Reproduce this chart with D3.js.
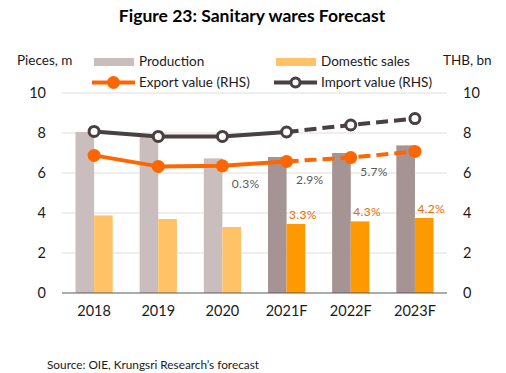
<!DOCTYPE html>
<html>
<head>
<meta charset="utf-8">
<script src="https://cdn.jsdelivr.net/npm/d3@7"></script>
<style>
  body { margin: 0; background: #fff; }
  text { font-family: Lato, "Open Sans", sans-serif; }
</style>
</head>
<body>
<div id="chart"></div>
<script>
var years = ["2018", "2019", "2020", "2021F", "2022F", "2023F"]
var production = [8.05, 7.9, 6.73, 6.8, 7.0, 7.38]
var domestic = [3.88, 3.7, 3.3, 3.45, 3.58, 3.75]
var exportValue = [6.88, 6.33, 6.36, 6.58, 6.77, 7.08]
var importValue = [8.08, 7.83, 7.83, 8.05, 8.4, 8.72]
var prodGrowth = ["", "", "", "0.3%", "2.9%", "5.7%"]
var domGrowth = ["", "", "", "3.3%", "4.3%", "4.2%"]
var ticks = [0, 2, 4, 6, 8, 10]
var forecastFrom = 3

var svgWidth = 506
var svgHeight = 373

var svg = d3.select("#chart")
    .append("svg")
    .attr("width", svgWidth)
    .attr("height", svgHeight)

var x = d3.scaleBand()
    .domain(years)
    .range([62, 447])
    .paddingInner(0.42)
    .paddingOuter(0.21)

var x1 = d3.scaleBand()
    .domain(["prod", "dom"])
    .range([0, x.bandwidth()])

var yLeft = d3.scaleLinear().domain([0, 10]).range([293, 93])
var yRight = d3.scaleLinear().domain([0, 10]).range([293, 93])

var cx = d => x(d) + x.bandwidth() / 2

// title
svg.append("text")
    .attr("x", 252).attr("y", 22)
    .attr("text-anchor", "middle")
    .attr("font-size", 17.5).attr("font-weight", "bold")
    .attr("fill", "#000")
    .text("Figure 23: Sanitary wares Forecast")

// gridlines
svg.append("g").selectAll("line")
    .data(ticks.slice(1))
    .enter().append("line")
    .attr("x1", 62).attr("x2", 447)
    .attr("y1", d => yLeft(d)).attr("y2", d => yLeft(d))
    .attr("stroke", "#dedede").attr("stroke-width", 1)

// axes
var leftAxis = d3.axisLeft(yLeft).tickValues(ticks).tickSize(0).tickPadding(0)
var rightAxis = d3.axisRight(yRight).tickValues(ticks).tickSize(0).tickPadding(0)
var bottomAxis = d3.axisBottom(x).tickSize(0).tickPadding(0)

var gl = svg.append("g").attr("transform", "translate(46,0)").call(leftAxis)
var gr = svg.append("g").attr("transform", "translate(463,0)").call(rightAxis)
var gb = svg.append("g").attr("transform", "translate(0,306)").call(bottomAxis)
;[gl, gr, gb].forEach(g => {
    g.select(".domain").remove()
    g.selectAll("text").attr("font-size", 14.5).attr("fill", "#1a1a1a")
        .attr("font-family", "Lato, sans-serif")
})

// bars
var bars = svg.append("g")
bars.selectAll("rect.prod")
    .data(years)
    .enter().append("rect")
    .attr("class", "prod")
    .attr("x", d => x(d) + x1("prod"))
    .attr("width", x1.bandwidth())
    .attr("y", (d, i) => yLeft(production[i]))
    .attr("height", (d, i) => yLeft(0) - yLeft(production[i]))
    .attr("fill", (d, i) => i < forecastFrom ? "#c9bdbd" : "#a69393")

bars.selectAll("rect.dom")
    .data(years)
    .enter().append("rect")
    .attr("class", "dom")
    .attr("x", d => x(d) + x1("dom"))
    .attr("width", x1.bandwidth())
    .attr("y", (d, i) => yLeft(domestic[i]))
    .attr("height", (d, i) => yLeft(0) - yLeft(domestic[i]))
    .attr("fill", (d, i) => i < forecastFrom ? "#ffc266" : "#ff9900")

// baseline
svg.append("line")
    .attr("x1", 62).attr("x2", 447)
    .attr("y1", yLeft(0)).attr("y2", yLeft(0))
    .attr("stroke", "#595959").attr("stroke-width", 1)

// growth labels
svg.append("g").selectAll("text")
    .data(years)
    .enter().append("text")
    .attr("x", d => cx(d) - 41)
    .attr("y", (d, i) => yLeft(production[i]) + 31)
    .attr("text-anchor", "middle")
    .attr("font-size", 12).attr("fill", "#595959")
    .attr("letter-spacing", 0.3)
    .text((d, i) => prodGrowth[i])

svg.append("g").selectAll("text")
    .data(years)
    .enter().append("text")
    .attr("x", d => x(d) + x1("dom") + x1.bandwidth() / 2 + 7)
    .attr("y", (d, i) => yLeft(domestic[i]) - 5)
    .attr("text-anchor", "middle")
    .attr("font-size", 12).attr("fill", "#e36c0a")
    .attr("letter-spacing", 0.3)
    .text((d, i) => domGrowth[i])

// lines
function drawLine(values, color) {
    var pts = years.map((d, i) => [cx(d), yRight(values[i])])
    var line = d3.line()
    svg.append("path")
        .attr("d", line(pts.slice(0, forecastFrom + 1)))
        .attr("fill", "none").attr("stroke", color)
        .attr("stroke-width", 4).attr("stroke-linejoin", "round")
    svg.append("path")
        .attr("d", line(pts.slice(forecastFrom)))
        .attr("fill", "none").attr("stroke", color)
        .attr("stroke-width", 4).attr("stroke-dasharray", "12,6")
    return pts
}

var impPts = drawLine(importValue, "#4a3f41")
var expPts = drawLine(exportValue, "#ff6600")

svg.append("g").selectAll("circle")
    .data(impPts)
    .enter().append("circle")
    .attr("cx", d => d[0]).attr("cy", d => d[1])
    .attr("r", 5).attr("fill", "#fff")
    .attr("stroke", "#4a3f41").attr("stroke-width", 3)

svg.append("g").selectAll("circle")
    .data(expPts)
    .enter().append("circle")
    .attr("cx", d => d[0]).attr("cy", d => d[1])
    .attr("r", 6.5).attr("fill", "#ff6600")

// axis titles
svg.append("text")
    .attr("x", 17).attr("y", 65)
    .attr("font-size", 13.5).attr("fill", "#1a1a1a")
    .text("Pieces, m")
svg.append("text")
    .attr("x", 443).attr("y", 65)
    .attr("font-size", 13.5).attr("fill", "#1a1a1a")
    .text("THB, bn")

// legend
var legend = svg.append("g")
legend.append("rect").attr("x", 94).attr("y", 58).attr("width", 40).attr("height", 8).attr("fill", "#c9bdbd")
legend.append("text").attr("x", 139).attr("y", 65.5).attr("font-size", 13.5).attr("fill", "#1a1a1a").text("Production")
legend.append("rect").attr("x", 276).attr("y", 58).attr("width", 40).attr("height", 8).attr("fill", "#ffc266")
legend.append("text").attr("x", 321).attr("y", 65.5).attr("font-size", 13.5).attr("fill", "#1a1a1a").text("Domestic sales")

legend.append("line").attr("x1", 92).attr("x2", 135).attr("y1", 82.5).attr("y2", 82.5)
    .attr("stroke", "#ff6600").attr("stroke-width", 4)
legend.append("circle").attr("cx", 113.5).attr("cy", 82.5).attr("r", 6.5).attr("fill", "#ff6600")
legend.append("text").attr("x", 139).attr("y", 87).attr("font-size", 13.5).attr("fill", "#1a1a1a").text("Export value (RHS)")

legend.append("line").attr("x1", 274).attr("x2", 317).attr("y1", 82.5).attr("y2", 82.5)
    .attr("stroke", "#4a3f41").attr("stroke-width", 4)
legend.append("circle").attr("cx", 295.5).attr("cy", 82.5).attr("r", 4.5).attr("fill", "#fff")
    .attr("stroke", "#4a3f41").attr("stroke-width", 3)
legend.append("text").attr("x", 321).attr("y", 87).attr("font-size", 13.5).attr("fill", "#1a1a1a").text("Import value (RHS)")

// source
svg.append("text")
    .attr("x", 47).attr("y", 369)
    .attr("font-size", 11.8).attr("fill", "#1a1a1a")
    .text("Source: OIE, Krungsri Research\u2019s forecast")
</script>
</body>
</html>
